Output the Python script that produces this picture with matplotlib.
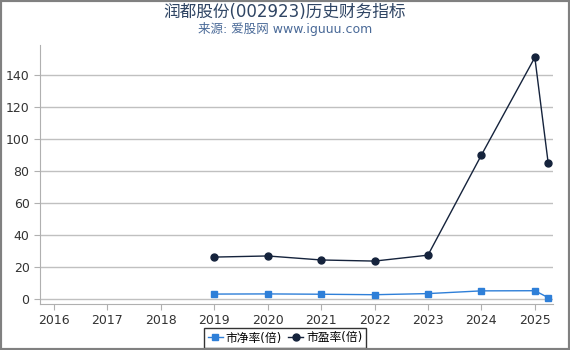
import matplotlib
matplotlib.use("Agg")
import matplotlib.pyplot as plt
from matplotlib.patches import Rectangle

plt.rcParams['font.family'] = ['DejaVu Sans', 'Noto Sans CJK SC']

years = [2019, 2020, 2021, 2022, 2023, 2024, 2025, 2025.25]
pe = [26.3, 27.0, 24.5, 23.8, 27.5, 90.0, 151.0, 85.0]
pb = [3.2, 3.3, 3.1, 2.8, 3.5, 5.2, 5.3, 1.0]
xticks = [2016, 2017, 2018, 2019, 2020, 2021, 2022, 2023, 2024, 2025]
yticks = [0, 20, 40, 60, 80, 100, 120, 140]

fig = plt.figure(figsize=(5.7, 3.5), dpi=100)
ax = fig.add_axes([40/570, (350-304)/350, (553-40)/570, (304-45)/350])

ax.plot(years, pb, color='#2e7fd8', marker='s', markersize=5, linewidth=1, label='市净率(倍)')
ax.plot(years, pe, color='#15233c', marker='o', markersize=5, linewidth=1, label='市盈率(倍)')

ax.set_xlim(2015.74, 2025.34)
ax.set_ylim(-3, 158.75)
ax.set_xticks(xticks)
ax.set_yticks(yticks)
ax.grid(axis='y', color='#c0c0c0', linewidth=1)
ax.set_axisbelow(True)
for s in ['top', 'right']:
    ax.spines[s].set_visible(False)
for s in ['left', 'bottom']:
    ax.spines[s].set_color('#b0b0b0')
ax.tick_params(axis='both', colors='#b0b0b0', labelcolor='#333333', labelsize=9, length=4)

fig.text(0.5, 1 - 12/350, '润都股份(002923)历史财务指标', ha='center', va='center', fontsize=12, color='#2f4564')
fig.text(0.5, 1 - 29/350, '来源: 爱股网 www.iguuu.com', ha='center', va='center', fontsize=9, color='#4a6a98')

leg = ax.legend(loc='center', bbox_to_anchor=((285-40)/513, (350-338-46)/259), ncol=2, fontsize=8.5,
                frameon=True, fancybox=False, edgecolor='black', handlelength=1.3, handletextpad=0.25,
                columnspacing=0.5, borderpad=0.3, borderaxespad=0)
leg.get_frame().set_linewidth(1)

fig.patches.append(Rectangle((0, 0), 1, 1, transform=fig.transFigure, fill=False, edgecolor='#808080', linewidth=3))

fig.savefig('out.png', dpi=100)
